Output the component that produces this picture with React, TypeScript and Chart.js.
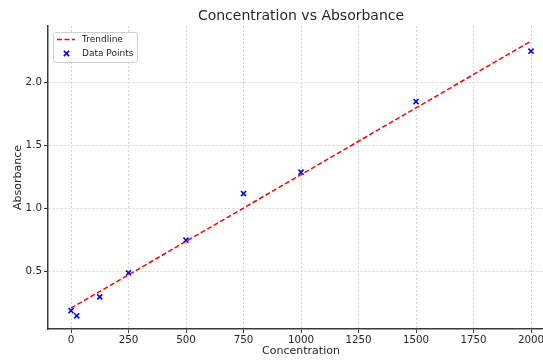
import React, { useEffect, useRef } from "react";
import { Chart, registerables } from "chart.js";

Chart.register(...registerables);

const concentration = [0, 25, 125, 250, 500, 750, 1000, 1500, 2000];
const absorbance = [0.19, 0.15, 0.3, 0.49, 0.75, 1.12, 1.29, 1.85, 2.25];
const trendX = [0, 2000];
const trendY = [0.21, 2.33];
const xTicks = [0, 250, 500, 750, 1000, 1250, 1500, 1750, 2000];
const yTicks = [0.5, 1.0, 1.5, 2.0];
const chartTitle = "Concentration vs Absorbance";
const xLabel = "Concentration";
const yLabel = "Absorbance";

const FONT = "'DejaVu Sans', sans-serif";
const TEXT = "#262626";
const AXIS = "#3a3a3a";
const GRID = "#d6d6d6";

const overlayPlugin = {
  id: "overlay",
  afterDraw(chart: any) {
    const { ctx, chartArea } = chart;
    ctx.save();
    // title
    ctx.fillStyle = TEXT;
    ctx.font = `14px ${FONT}`;
    ctx.textAlign = "center";
    ctx.textBaseline = "middle";
    ctx.fillText(chartTitle, (chartArea.left + chartArea.right) / 2, 16);

    // legend
    const bx = chartArea.left + 5;
    const by = chartArea.top + 6;
    const bw = 84;
    const bh = 30;
    ctx.beginPath();
    ctx.roundRect(bx + 0.5, by + 0.5, bw, bh, 2);
    ctx.fillStyle = "rgba(255,255,255,0.8)";
    ctx.fill();
    ctx.strokeStyle = "#d0d0d0";
    ctx.lineWidth = 1;
    ctx.stroke();

    const ds = chart.data.datasets;
    const trend = ds[0];
    const pts = ds[1];
    const r1 = by + 7.5;
    ctx.beginPath();
    ctx.setLineDash(trend.borderDash);
    ctx.strokeStyle = trend.borderColor;
    ctx.lineWidth = trend.borderWidth;
    ctx.moveTo(bx + 4, r1);
    ctx.lineTo(bx + 22, r1);
    ctx.stroke();
    ctx.setLineDash([]);
    const r2 = by + 21.5;
    const cx = bx + 13.5;
    const s = 2.6;
    ctx.beginPath();
    ctx.strokeStyle = pts.borderColor;
    ctx.lineWidth = pts.borderWidth;
    ctx.moveTo(cx - s, r2 - s);
    ctx.lineTo(cx + s, r2 + s);
    ctx.moveTo(cx - s, r2 + s);
    ctx.lineTo(cx + s, r2 - s);
    ctx.stroke();

    ctx.fillStyle = TEXT;
    ctx.font = `9px ${FONT}`;
    ctx.textAlign = "left";
    ctx.textBaseline = "middle";
    ctx.fillText(trend.label, bx + 29, r1);
    ctx.fillText(pts.label, bx + 29, r2);
    ctx.restore();
  },
};

export default function App() {
  const ref = useRef<HTMLCanvasElement>(null);
  useEffect(() => {
    if (!ref.current) return;
    const chart = new Chart(ref.current, {
      type: "scatter",
      data: {
        datasets: [
          {
            type: "line",
            label: "Trendline",
            data: trendX.map((x, i) => ({ x, y: trendY[i] })),
            borderColor: "#ff0000",
            borderWidth: 1.5,
            borderDash: [5, 2.5],
            pointRadius: 0,
            fill: false,
            order: 0,
          },
          {
            type: "scatter",
            label: "Data Points",
            data: concentration.map((x, i) => ({ x, y: absorbance[i] })),
            pointStyle: "crossRot",
            pointRadius: 3.6,
            borderColor: "#0000ff",
            backgroundColor: "#0000ff",
            borderWidth: 1.6,
            order: 1,
          },
        ],
      },
      options: {
        responsive: false,
        animation: false,
        layout: { padding: { top: 26, right: 16, left: 0, bottom: 0 } },
        plugins: {
          legend: { display: false },
          title: { display: false },
          tooltip: { enabled: false },
        },
        scales: {
          x: {
            type: "linear",
            min: -100,
            max: 2100,
            afterBuildTicks: (s: any) => {
              s.ticks = xTicks.map((v) => ({ value: v }));
            },
            afterFit: (s: any) => {
              s.height = 33;
            },
            ticks: {
              color: TEXT,
              font: { family: FONT, size: 10.3 },
              padding: 1,
              maxRotation: 0,
              autoSkip: false,
              callback: (v: any) => String(v),
            },
            grid: {
              color: GRID,
              lineWidth: 1,
              drawTicks: true,
              tickLength: 4,
              tickColor: AXIS,
              tickWidth: 1,
            },
            border: { display: true, color: AXIS, width: 1.5, dash: [2, 2] },
            title: {
              display: true,
              text: xLabel,
              color: TEXT,
              font: { family: FONT, size: 11 },
              padding: { top: 0, bottom: 4 },
            },
          },
          y: {
            type: "linear",
            min: 0.045,
            max: 2.45,
            afterBuildTicks: (s: any) => {
              s.ticks = yTicks.map((v) => ({ value: v }));
            },
            afterFit: (s: any) => {
              s.width = 48;
            },
            ticks: {
              color: TEXT,
              font: { family: FONT, size: 10.3 },
              padding: 2,
              autoSkip: false,
              callback: (v: any) => Number(v).toFixed(1),
            },
            grid: {
              color: GRID,
              lineWidth: 1,
              drawTicks: true,
              tickLength: 4,
              tickColor: AXIS,
              tickWidth: 1,
            },
            border: { display: true, color: AXIS, width: 1.5, dash: [2, 2] },
            title: {
              display: true,
              text: yLabel,
              color: TEXT,
              font: { family: FONT, size: 11 },
              padding: { top: 11.4, bottom: 0 },
            },
          },
        },
      },
      plugins: [overlayPlugin],
    });
    return () => chart.destroy();
  }, []);
  return (
    <div style={{ position: "fixed", left: 0, top: 0, width: 570, height: 362, background: "#fff" }}>
      <canvas ref={ref} width={570} height={362} style={{ width: 570, height: 362, display: "block" }} />
    </div>
  );
}
